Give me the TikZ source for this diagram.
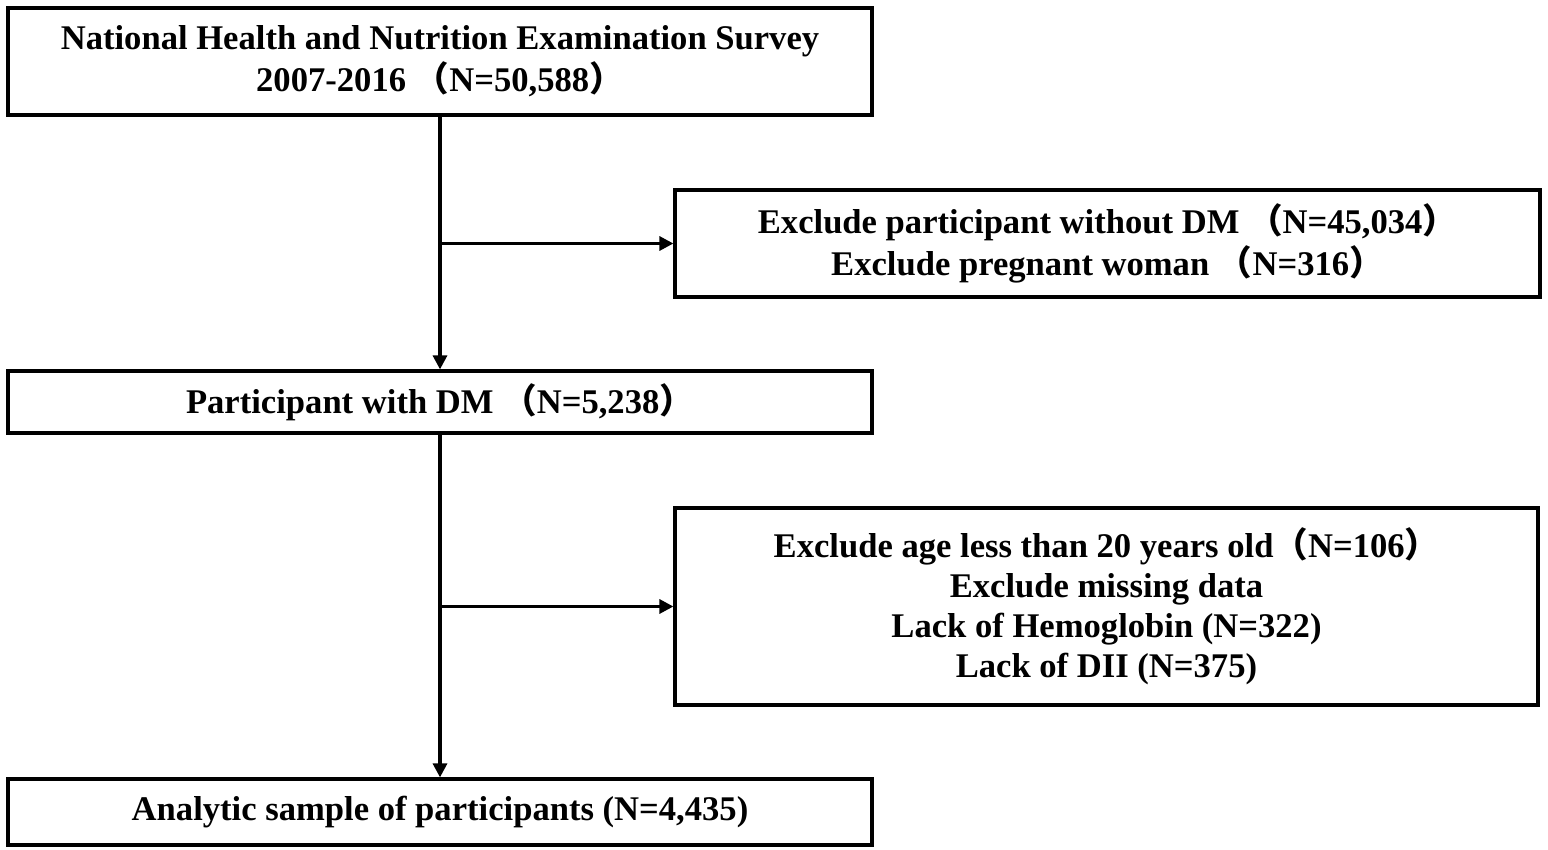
\documentclass[tikz,border=0pt]{standalone}
\usepackage{fontspec}
\setmainfont{Liberation Serif}
\newfontfamily\cjk{Noto Sans CJK SC}
\usetikzlibrary{arrows.meta}
\newcommand{\lp}{{\cjk （}}
\newcommand{\rp}{{\cjk ）}}
\begin{document}
\begin{tikzpicture}[x=0.5pt,y=-0.5pt,
    box/.style={draw, line width=1.6pt, align=center, inner sep=0pt,
      font=\fontsize{17.3}{21}\selectfont\bfseries},
    flow/.style={line width=1.6pt, -{Triangle[length=7pt,width=7pt]}}]
    \useasboundingbox (0,0) rectangle (1548,850);
    \node[box, minimum width=432pt, minimum height=53.5pt] (survey) at (440,61.5)
      {National Health and Nutrition Examination Survey\\2007-2016 \lp N=50,588\rp};
    \node[box, minimum width=432.5pt, minimum height=53.5pt] (excla) at (1107.5,243.5)
      {Exclude participant without DM \lp N=45,034\rp\\Exclude pregnant woman \lp N=316\rp};
    \node[box, minimum width=432pt, minimum height=31pt] (dm) at (440,402)
      {Participant with DM \lp N=5,238\rp};
    \node[box, minimum width=431.5pt, minimum height=98.5pt, font=\fontsize{17.3}{20}\selectfont\bfseries] (exclb) at (1106.5,606.5)
      {Exclude age less than 20 years old\lp N=106\rp\\Exclude missing data\\Lack of Hemoglobin (N=322)\\Lack of DII (N=375)};
    \node[box, minimum width=432pt, minimum height=33pt] (sample) at (440,812)
      {Analytic sample of participants (N=4,435)};
    \coordinate (ja) at (survey.south |- excla.west);
    \coordinate (jb) at (dm.south |- exclb.west);
    \draw[flow] (survey.south) -- (dm.north);
    \draw[flow] (ja) -- (excla.west);
    \draw[flow] (dm.south) -- (sample.north);
    \draw[flow] (jb) -- (exclb.west);
\end{tikzpicture}
\end{document}
